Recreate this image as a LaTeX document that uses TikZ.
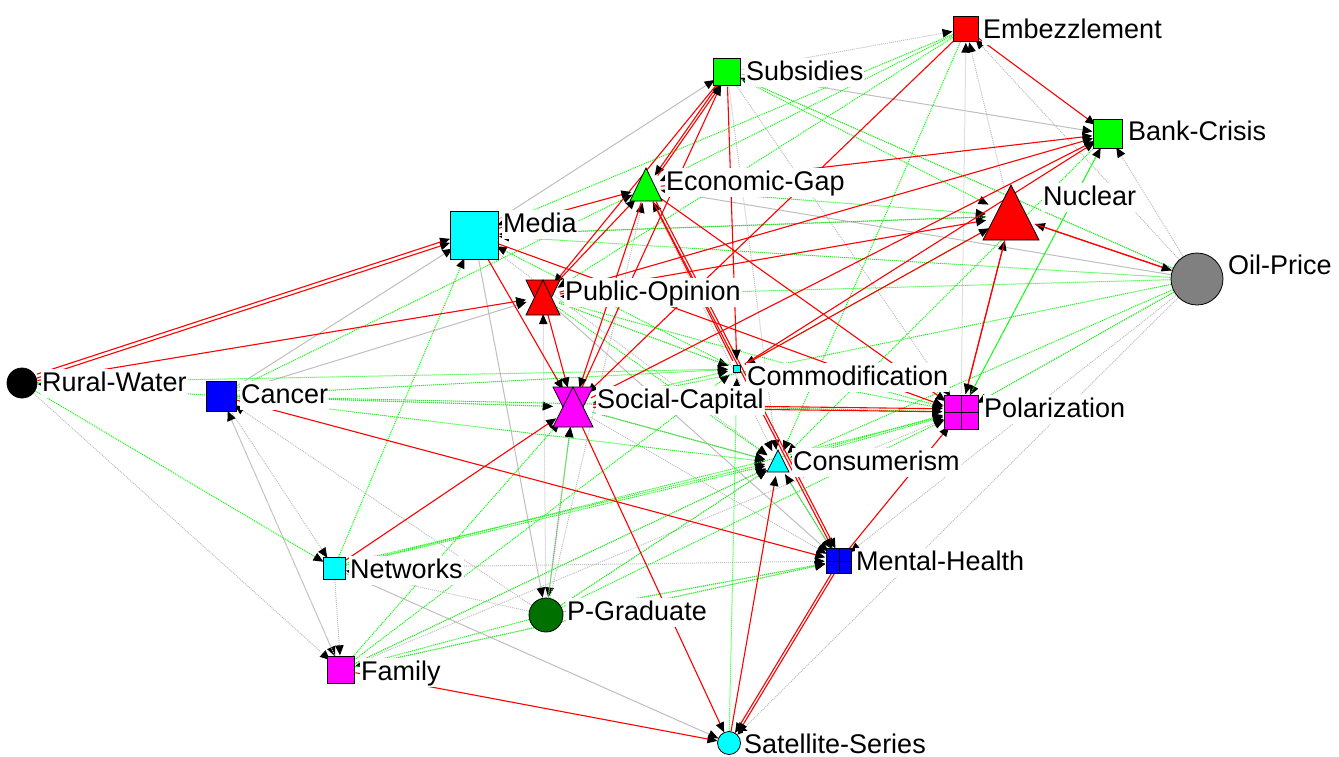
\documentclass[tikz,border=0pt]{standalone}
\usepackage{fontspec}
\setmainfont{Liberation Sans}
\usetikzlibrary{arrows.meta}
\definecolor{lime}{RGB}{0,255,0}
\definecolor{silv}{RGB}{190,190,190}
\definecolor{dgreen}{RGB}{0,112,0}
\definecolor{ngray}{RGB}{128,128,128}
\definecolor{cyn}{RGB}{0,255,255}
\definecolor{mag}{RGB}{255,0,255}
\definecolor{blu}{RGB}{0,0,255}
\definecolor{rd}{RGB}{255,0,0}
\begin{document}
\begin{tikzpicture}[x=1pt,y=-1pt,
  anc/.style={circle,inner sep=0pt,minimum size=#1},
  tip/.style={-{Triangle[length=10pt,width=8.5pt,color=black]}},
  redge/.style={draw=rd,line width=1.1pt,tip},
  gedge/.style={draw=lime,line width=1pt,dash pattern=on 1pt off 1pt,tip},
  sedge/.style={draw=silv,line width=1pt,tip},
  dedge/.style={draw=silv,line width=1pt,dash pattern=on 1pt off 1pt,tip},
  lbl/.style={fill=white,anchor=base west,inner xsep=1pt,inner ysep=2pt,text height=20pt,text depth=5pt,font=\fontsize{27}{30}\selectfont},
  shp/.style={draw=black,line width=0.8pt}
]
\useasboundingbox (0,0) rectangle (1339,756);
% invisible anchors
\node[anc=27pt] (EM) at (966,29) {};
\node[anc=29pt] (SU) at (727,72) {};
\node[anc=31pt] (BC) at (1108,134) {};
\node[anc=30pt] (EG) at (646,188) {};
\node[anc=50pt] (NU) at (1011,216) {};
\node[anc=50pt] (ME) at (474,235) {};
\node[anc=53pt] (OP) at (1197,279) {};
\node[anc=34pt] (PO) at (543,297) {};
\node[anc=31pt] (RW) at (22,383) {};
\node[anc=32pt] (CA) at (221,396) {};
\node[anc=18pt] (CO) at (737,369) {};
\node[anc=40pt] (SC) at (573,407) {};
\node[anc=37pt] (PL) at (961,412) {};
\node[anc=26pt] (CN) at (778,463) {};
\node[anc=28pt] (MH) at (839,561) {};
\node[anc=24pt] (NW) at (334,568) {};
\node[anc=35pt] (PG) at (546,615) {};
\node[anc=29pt] (FA) at (341,670) {};
\node[anc=23pt] (SS) at (729,743) {};

% gray solid
\draw[sedge] (ME) -- (SU);
\draw[sedge] (ME) -- (NU);
\draw[sedge] (ME) -- (PG);
\draw[sedge] (CA) -- (ME);
\draw[sedge] (NW) -- (SS);
\draw[sedge] (SC) -- (CN);
\draw[sedge] (PO) -- (MH);
\draw[sedge] (CN) -- (MH);
\draw[sedge] (SU) -- (BC);
\draw[sedge] (OP) -- (EG);
\draw[sedge] (CA) -- (PO);
% gray dotted
\draw[dedge] (RW) -- (FA);
\draw[dedge] (CA) -- (NW);
\draw[dedge] (CA) -- (FA);
\draw[dedge] (NW) -- (FA);
\draw[dedge] (FA) -- (CA);
\draw[dedge] (PG) -- (CA);
\draw[dedge] (PG) -- (NW);
\draw[dedge] (NW) -- (MH);
\draw[dedge] (FA) -- (MH);
\draw[dedge] (FA) -- (PL);
\draw[dedge] (PG) -- (MH);
\draw[dedge] (PG) -- (PO);
\draw[dedge] (SC) -- (PG);
\draw[dedge] (PG) -- (SC);
\draw[dedge] (PG) -- (EG);
\draw[dedge] (SU) -- (EM);
\draw[dedge] (PL) -- (EM);
\draw[dedge] (NU) -- (EM);
\draw[dedge] (OP) -- (EM);
\draw[dedge] (OP) -- (BC);
\draw[dedge] (OP) -- (SU);
\draw[dedge] (OP) -- (PL);
\draw[dedge] (OP) -- (MH);
\draw[dedge] (OP) -- (SS);
\draw[dedge] (SU) -- (CN);
\draw[dedge] (SU) -- (PL);
\draw[dedge] (SC) -- (MH);
\draw[dedge] (PO) -- (CO);
\draw[dedge] (CA) -- (SC);
\draw[dedge] (PG) -- (CN);
\draw[dedge] (FA) -- (CN);
\draw[dedge] (EG) -- (CN);
\draw[dedge] (ME) -- (CN);
% green dotted
\draw[gedge] (RW) -- (NW);
\draw[gedge] (CA) -- (RW);
\draw[gedge] (RW) -- (CO);
\draw[gedge] (CA) -- (SC);
\draw[gedge] (CA) -- (CO);
\draw[gedge] (CA) -- (CN);
\draw[gedge] (CA) -- (PL);
\draw[gedge] (CA) -- (EG);
\draw[gedge] (NW) -- (ME);
\draw[gedge] (NW) -- (CN);
\draw[gedge,transform canvas={yshift=2pt}] (NW) -- (CN);
\draw[gedge] (NW) -- (PL);
\draw[gedge] (FA) -- (CN);
\draw[gedge] (FA) -- (SC);
\draw[gedge] (FA) -- (CO);
\draw[gedge] (PG) -- (FA);
\draw[gedge] (FA) -- (MH);
\draw[gedge] (PG) -- (CN);
\draw[gedge] (PG) -- (MH);
\draw[gedge] (PG) -- (PL);
\draw[gedge] (SC) -- (CN);
\draw[gedge] (OP) -- (SC);
\draw[gedge] (SC) -- (CO);
\draw[gedge] (PO) -- (CO);
\draw[gedge] (PO) -- (CN);
\draw[gedge] (PO) -- (PL);
\draw[gedge] (OP) -- (PO);
\draw[gedge] (EM) -- (PO);
\draw[gedge] (OP) -- (ME);
\draw[gedge] (CO) -- (ME);
\draw[gedge] (EM) -- (ME);
\draw[gedge] (EM) -- (EG);
\draw[gedge] (EG) -- (NU);
\draw[gedge] (OP) -- (SU);
\draw[gedge] (SU) -- (NU);
\draw[gedge] (BC) -- (PL);
\draw[gedge] (PL) -- (BC);
\draw[gedge] (BC) -- (CN);
\draw[gedge] (OP) -- (PL);
\draw[gedge] (OP) -- (CN);
\draw[gedge] (NU) -- (CO);
\draw[gedge] (NU) -- (ME);
\draw[gedge] (CO) -- (PL);
\draw[gedge] (CN) -- (PL);
\draw[gedge,transform canvas={yshift=2pt}] (CN) -- (PL);
\draw[gedge] (SS) -- (CO);
\draw[gedge] (EM) -- (CN);
\draw[gedge] (PG) -- (SC);
\draw[gedge] (MH) -- (CN);
% red solid
\draw[redge] (EM) -- (BC);
\draw[redge] (OP) -- (NU);
\draw[redge] (NU) -- (OP);
\draw[redge] (RW) -- (ME);
\draw[redge,transform canvas={yshift=4pt}] (RW) -- (ME);
\draw[redge] (RW) -- (PO);
\draw[redge] (CA) -- (MH);
\draw[redge] (NW) -- (SC);
\draw[redge] (SC) -- (SS);
\draw[redge] (FA) -- (SS);
\draw[redge] (SS) -- (CN);
\draw[redge] (MH) -- (SS);
\draw[redge,transform canvas={xshift=3pt}] (MH) -- (SS);
\draw[redge] (SU) -- (EG);
\draw[redge,transform canvas={xshift=3pt}] (EG) -- (SU);
\draw[redge] (SU) -- (PO);
\draw[redge] (SC) -- (SU);
\draw[redge] (ME) -- (EG);
\draw[redge] (PO) -- (EG);
\draw[redge] (EG) -- (SC);
\draw[redge] (CO) -- (EG);
\draw[redge] (EG) -- (PL);
\draw[redge] (EG) -- (MH);
\draw[redge,transform canvas={xshift=3pt}] (EG) -- (MH);
\draw[redge] (SU) -- (CO);
\draw[redge] (EG) -- (BC);
\draw[redge] (PO) -- (BC);
\draw[redge] (PO) -- (NU);
\draw[redge] (SC) -- (BC);
\draw[redge] (CO) -- (BC);
\draw[redge] (CO) -- (NU);
\draw[redge] (EM) -- (SC);
\draw[redge] (ME) -- (PL);
\draw[redge] (ME) -- (SC);
\draw[redge] (PO) -- (SC);
\draw[redge] (PL) -- (NU);
\draw[redge] (NU) -- (PL);
\draw[redge] (SC) -- (PL);
\draw[redge,transform canvas={yshift=3pt}] (SC) -- (PL);
\draw[redge] (MH) -- (PL);

% labels
\node[lbl] (lEM) at (982,38) {Embezzlement};
\node[lbl] (lSU) at (745,80) {Subsidies};
\node[lbl] (lBC) at (1127,140) {Bank-Crisis};
\node[lbl] (lEG) at (665,190) {Economic-Gap};
\node[lbl] (lNU) at (1042,205) {Nuclear};
\node[lbl] (lME) at (502,232) {Media};
\node[lbl] (lOP) at (1227,274) {Oil-Price};
\node[lbl] (lPO) at (564,300) {Public-Opinion};
\node[lbl] (lRW) at (41,391) {Rural-Water};
\node[lbl] (lCA) at (240,403) {Cancer};
\node[lbl] (lCO) at (746,385) {Commodification};
\node[lbl] (lSC) at (596,408) {Social-Capital};
\node[lbl] (lPL) at (983,417) {Polarization};
\node[lbl] (lCN) at (792,470) {Consumerism};
\node[lbl] (lMH) at (855,570) {Mental-Health};
\node[lbl] (lNW) at (349,578) {Networks};
\node[lbl] (lPG) at (566,620) {P-Graduate};
\node[lbl] (lFA) at (360,680) {Family};
\node[lbl] (lSS) at (743,753) {Satellite-Series};

% node shapes
\filldraw[shp,fill=rd] (953.5,16.5) rectangle (978.5,41.5);
\filldraw[shp,fill=lime] (713.5,58.5) rectangle (740.5,85.5);
\filldraw[shp,fill=lime] (1093.5,119.5) rectangle (1122.5,148.5);
\filldraw[shp,fill=lime] (646,168) -- (662,201) -- (630,201) -- cycle;
\filldraw[shp,fill=rd] (1011,185) -- (1039,240) -- (983,240) -- cycle;
\filldraw[shp,fill=cyn] (450,211) rectangle (498,259);
\filldraw[shp,fill=ngray] (OP.center) circle (26);
\filldraw[shp,fill=rd] (526,280) -- (560,280) -- (543,315) -- cycle;
\filldraw[shp,fill=rd] (526,315) -- (560,315) -- (543,280) -- cycle;
\filldraw[shp,fill=black] (RW.center) circle (15);
\filldraw[shp,fill=blu] (206,381) rectangle (236,411);
\filldraw[shp,fill=cyn] (733.5,365.5) rectangle (740.5,372.5);
\filldraw[shp,fill=mag] (553,387) -- (593,387) -- (573,427) -- cycle;
\filldraw[shp,fill=mag] (553,427) -- (593,427) -- (573,387) -- cycle;
\filldraw[shp,fill=mag] (944,395) rectangle (978,429);
\draw[shp] (961,395) -- (961,429) (944,412) -- (978,412);
\filldraw[shp,fill=cyn] (778,450) -- (789,472) -- (767,472) -- cycle;
\filldraw[shp,fill=blu] (826.5,548.5) rectangle (851.5,573.5);
\draw[shp] (839,548.5) -- (839,573.5) (826.5,561) -- (851.5,561);
\filldraw[shp,fill=cyn] (323,557) rectangle (345,579);
\filldraw[shp,fill=dgreen] (PG.center) circle (17);
\filldraw[shp,fill=mag] (327.5,656.5) rectangle (354.5,683.5);
\filldraw[shp,fill=cyn] (SS.center) circle (11.5);
\end{tikzpicture}
\end{document}
